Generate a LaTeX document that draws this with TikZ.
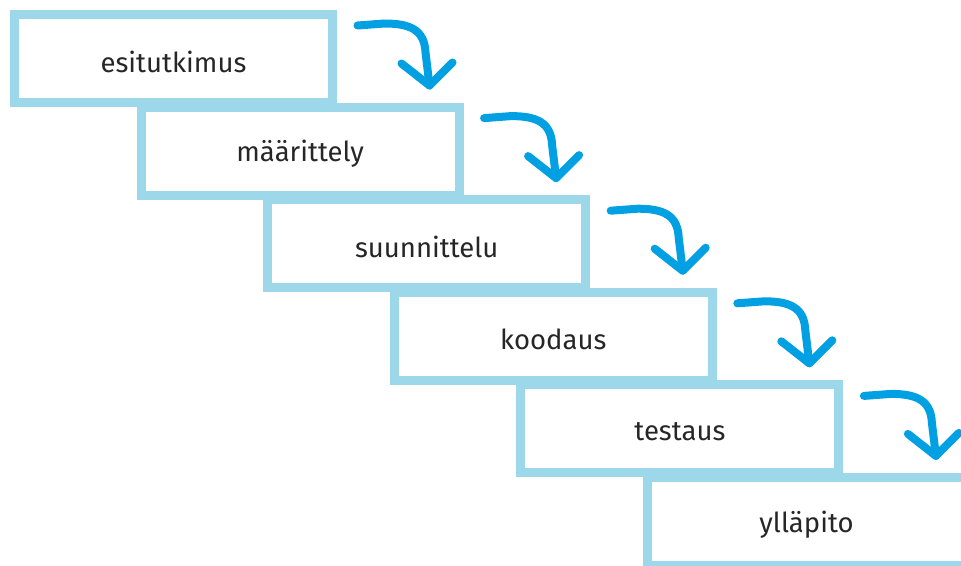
\documentclass[tikz,border=0pt]{standalone}
\usepackage{fontspec}
\setmainfont{Fira Sans}
\usetikzlibrary{calc}
\definecolor{boxblue}{RGB}{157,216,234}
\definecolor{arrblue}{RGB}{0,160,227}
\begin{document}
\begin{tikzpicture}[x=1pt,y=-1pt,
  stage/.style={draw=boxblue, line width=9pt, fill=white, minimum width=318pt,
    minimum height=88pt, inner sep=0pt, font=\fontsize{27.5}{32}\selectfont, text=black!85},
  curl/.style={draw=arrblue, line width=8pt, line cap=round, line join=round}]
\useasboundingbox (0,0) rectangle (961,565);
\clip (0,0) rectangle (961,565);
\foreach \t [count=\i from 0] in {esitutkimus,määrittely,suunnittelu,koodaus,testaus,ylläpito} {
  \node[stage] (b\i) at (173.5+126.6*\i, 58.5+92.6*\i) {};
  \node[font=\fontsize{27.5}{32}\selectfont, text=black!85] (t\i) at ($(b\i.center)+(0,3)$) {\t};
}
\foreach \i in {0,...,4} {
  \coordinate (s\i) at ($(b\i.north east)+(20.5,15.5)$);
  \begin{scope}[shift={(s\i)}]
    \draw[curl] (0,0) -- (27,-2) .. controls (52,-2) and (67,4) .. (68,27) -- (72,60);
    \draw[curl] (44,38) -- (72,60) -- (95,37);
  \end{scope}
}
\end{tikzpicture}
\end{document}
